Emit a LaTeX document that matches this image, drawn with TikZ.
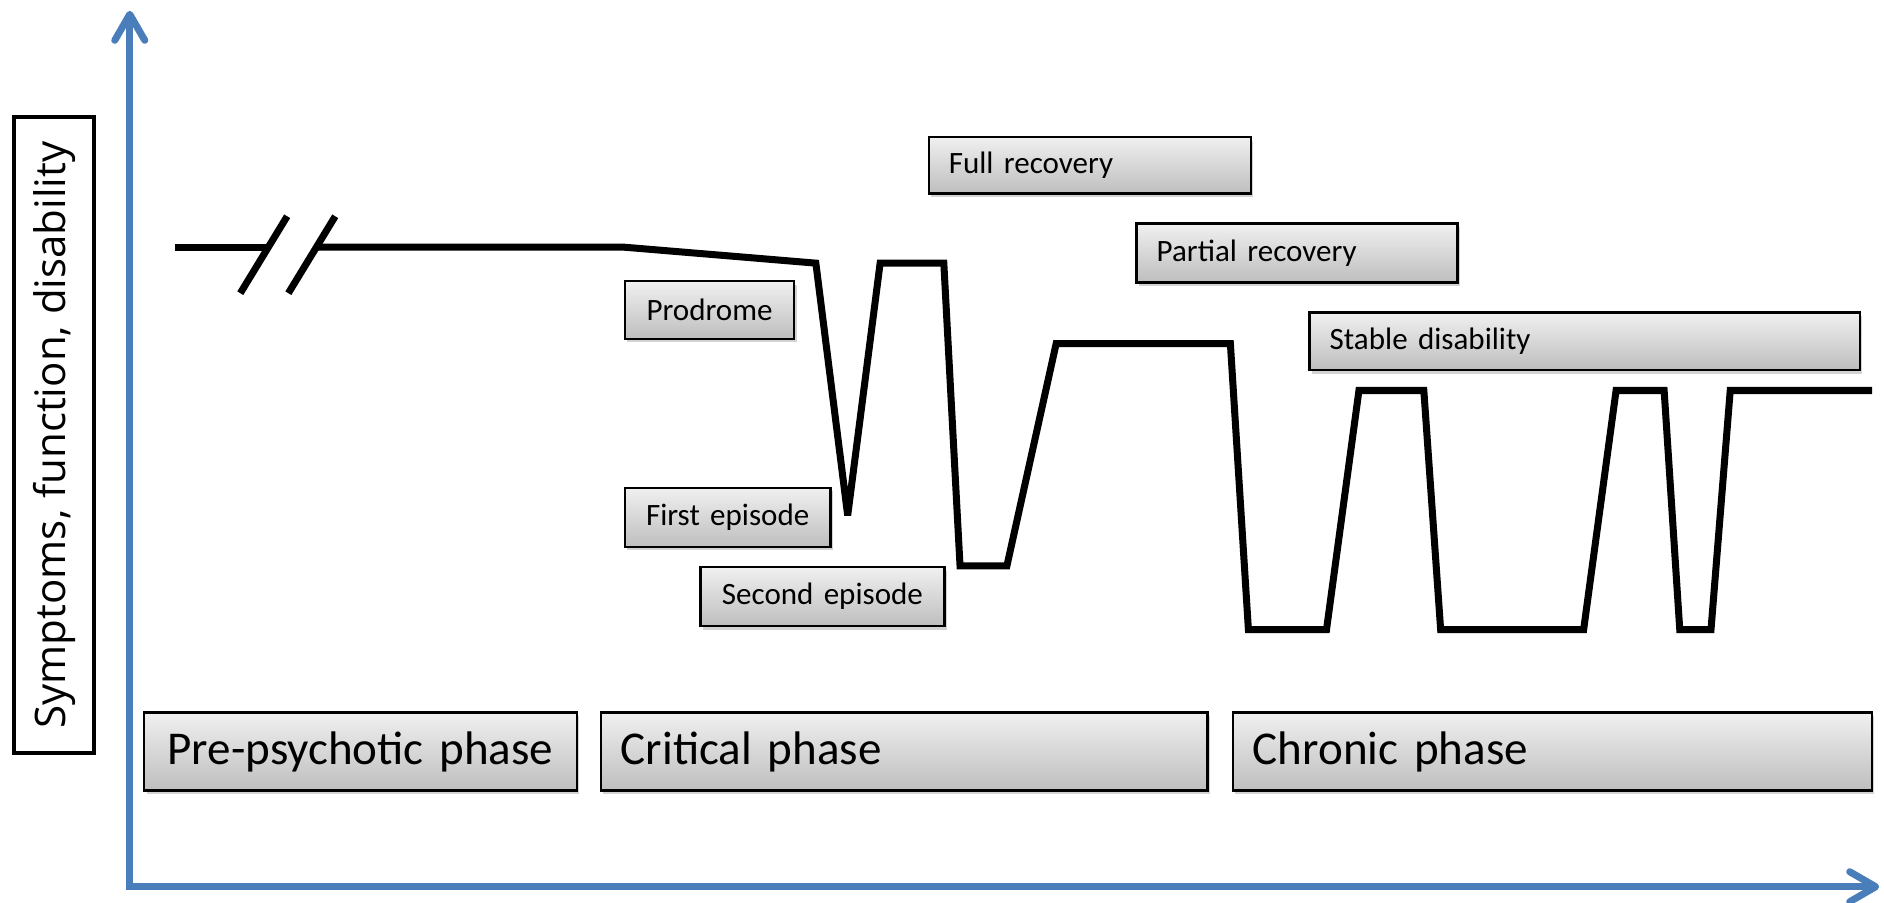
\documentclass[tikz,border=0pt]{standalone}
\usepackage{fontspec}
\setmainfont{Carlito}
\newfontfamily\labelfont{Open Sans}
\usetikzlibrary{arrows.meta,shadows}
\definecolor{axisblue}{RGB}{74,126,187}
\definecolor{boxtop}{RGB}{240,240,240}
\definecolor{boxbot}{RGB}{190,190,190}
\tikzset{
  sbox/.style={draw=black, line width=1.2pt, top color=boxtop, bottom color=boxbot,
    drop shadow={shadow xshift=1.2pt, shadow yshift=-1.8pt, opacity=0.35},
    inner xsep=10pt, inner ysep=0pt, anchor=north west, font=\fontsize{15.5}{18}\selectfont},
  pbox/.style={sbox, font=\fontsize{23.5}{28}\selectfont},
  curve/.style={line width=3.5pt, line join=miter, miter limit=3},
  axis/.style={draw=axisblue, line width=3.5pt, line join=miter},
  axtip/.tip={Straight Barb[length=13pt, width=15pt, round]}
}
\begin{document}
\begin{tikzpicture}[x=0.6pt, y=-0.6pt]
\useasboundingbox (0,0) rectangle (1568,751.5);
% axes
\coordinate (ytip) at (108,9);
\coordinate (orig) at (108,738);
\coordinate (xtip) at (1564,738);
\draw[axis, axtip-axtip] (ytip) -- (orig) -- (xtip);
% vertical label
\node[draw, line width=2pt, rotate=90, minimum width=318pt, minimum height=39.6pt, inner sep=0pt,
  font=\labelfont\fontsize{21}{24}\selectfont] (ylab) at (45,362) {Symptoms, function, disability};
% boxes
\node[sbox, minimum height=28.2pt, text width=140.8pt, align=left] (full) at (772,113) {Full recovery};
\node[sbox, minimum height=29.4pt, text width=140.2pt, align=left] (partial) at (945,185) {Partial recovery};
\node[sbox, minimum height=28.8pt, text width=64.6pt, align=center] (prodrome) at (519,233) {Prodrome};
\node[sbox, minimum height=28.8pt, text width=254.8pt, align=left] (stable) at (1089,259) {Stable disability};
\node[sbox, minimum height=29.4pt, text width=82.8pt, align=center] (first) at (519,405) {First episode};
\node[sbox, minimum height=29.4pt, text width=101.8pt, align=center] (second) at (582,471) {Second episode};
\node[pbox, minimum height=39pt, text width=196pt, align=center] (pre) at (119,592) {Pre-psychotic phase};
\node[pbox, minimum height=39pt, text width=283pt, align=left] (critical) at (499,592) {Critical phase};
\node[pbox, minimum height=39pt, text width=299.2pt, align=left] (chronic) at (1025,592) {Chronic phase};
% course line
\draw[curve] (146,205.6) -- (223,205.6);
\draw[curve] (200,244) -- (239,180);
\draw[curve] (240,244) -- (279,180);
\draw[curve] (262,205.6) -- (518,205.6) -- (679,219) -- (705.5,429) -- (732.5,219) -- (785.5,219)
  -- (799,471) -- (838,471) -- (879,286) -- (1024,286) -- (1039,524) -- (1104,524)
  -- (1131,325) -- (1185,325) -- (1199,524) -- (1318,524) -- (1345,325) -- (1385,325)
  -- (1398,524) -- (1424,524) -- (1440,325) -- (1558,325);
\end{tikzpicture}
\end{document}
